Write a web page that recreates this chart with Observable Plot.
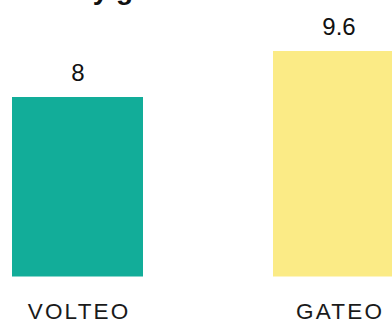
<!DOCTYPE html>
<html>
<head>
<meta charset="utf-8">
<script src="https://cdn.jsdelivr.net/npm/d3@7"></script>
<script src="https://cdn.jsdelivr.net/npm/@observablehq/plot@0.6"></script>
<style>
  html, body { margin: 0; padding: 0; background: #fff; }
  #chart svg { display: block; }
  #chart g[aria-label="x-axis tick label"] text { letter-spacing: 2.2px; }
</style>
</head>
<body>
<div id="chart"></div>
<script>
const categories = ["VOLTEO", "GATEO"];
const values = [8, 9.6];
const colors = ["#12ad99", "#fbeb86"];
const title = "Volteo y gateo";

const data = categories.map((c, i) => ({category: c, value: values[i]}));

const chart = Plot.plot({
  width: 392,
  height: 320,
  marginTop: 0,
  marginBottom: 43.5,
  marginLeft: 0,
  marginRight: 0,
  style: {background: "#fff"},
  x: {domain: categories, range: [-118.5, 534], padding: 0.5, label: null},
  y: {domain: [1.757, 11.374], axis: null},
  color: {domain: categories, range: colors},
  marks: [
    Plot.barY(data, {x: "category", y: "value", fill: "category", clip: true}),
    Plot.text(data, {
      x: "category", y: "value", text: d => String(d.value),
      lineAnchor: "bottom", dy: -17,
      fontSize: 24, fontFamily: "Liberation Sans, Arial, sans-serif", fill: "#111"
    }),
    Plot.axisX({
      tickSize: 0, tickPadding: 26, fontSize: 22.5, label: null, dx: 1.1,
      fontFamily: "Liberation Sans, Arial, sans-serif", fill: "#1a1a1a"
    }),
    Plot.text([title], {
      frameAnchor: "top-left", lineAnchor: "bottom", textAnchor: "start",
      dx: 1, dy: -2, text: d => d,
      fontSize: 28, fontWeight: "bold",
      fontFamily: "Liberation Sans, Arial, sans-serif", fill: "#111"
    })
  ]
});
document.getElementById("chart").appendChild(chart);
</script>
</body>
</html>
